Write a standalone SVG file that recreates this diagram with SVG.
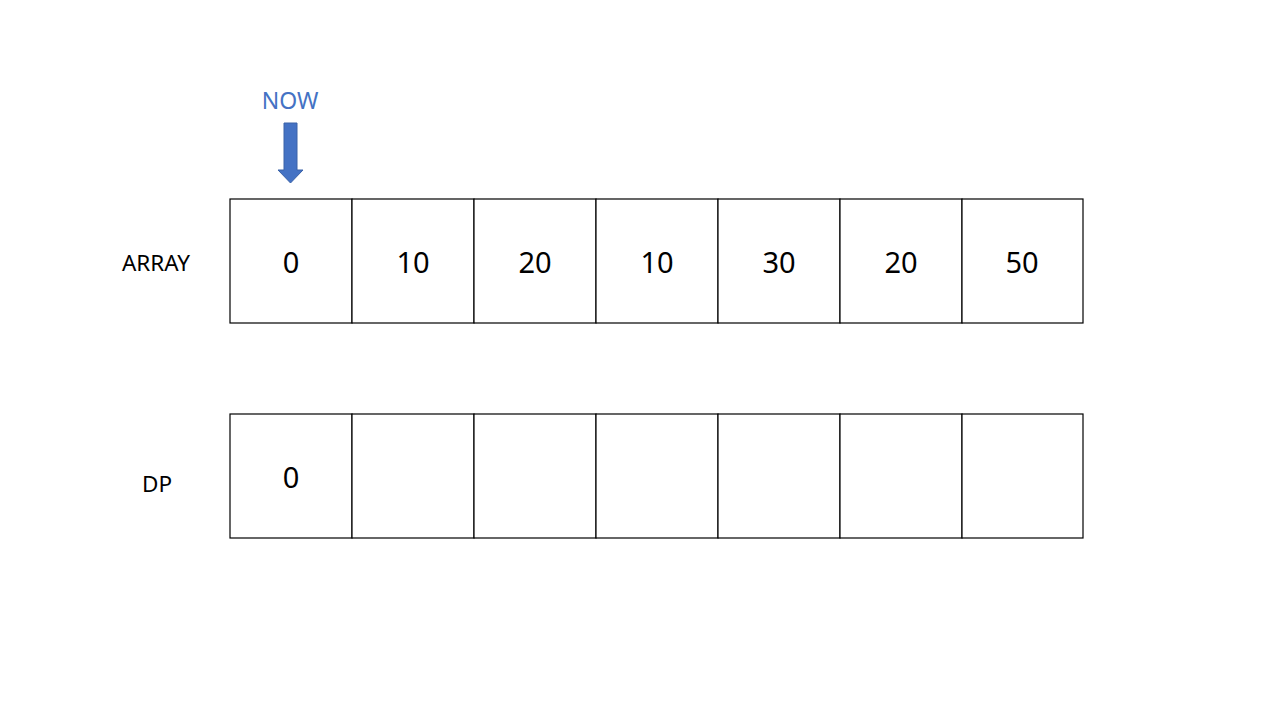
<svg xmlns="http://www.w3.org/2000/svg" width="1280" height="720" viewBox="0 0 1280 720">
<style>
.cell{fill:#ffffff;stroke:#000000;stroke-width:1.2}
.num{font-family:"Noto Sans","Open Sans",sans-serif;font-size:29px;fill:#000000;text-anchor:middle;dominant-baseline:central}
.lbl{font-family:"Noto Sans","Open Sans",sans-serif;font-size:22.5px;fill:#000000;text-anchor:middle;dominant-baseline:central}
.now{font-family:"Noto Sans","Open Sans",sans-serif;font-size:23px;fill:#4472C4;text-anchor:middle;dominant-baseline:central}
</style>
<rect width="1280" height="720" fill="#ffffff"/>
<g id="labels">
<text class="lbl" x="156" y="262">ARRAY</text>
<text class="lbl" x="157" y="483">DP</text>
</g>
<g id="pointer">
<text class="now" x="290" y="100">NOW</text>
<polygon points="284,123 297,123 297,170 303,170 290.5,183 278,170 284,170" fill="#4472C4" stroke="#3A62A8" stroke-width="1"/>
</g>
<g id="array">
<rect class="cell" x="230" y="199" width="122" height="124"/>
<rect class="cell" x="352" y="199" width="122" height="124"/>
<rect class="cell" x="474" y="199" width="122" height="124"/>
<rect class="cell" x="596" y="199" width="122" height="124"/>
<rect class="cell" x="718" y="199" width="122" height="124"/>
<rect class="cell" x="840" y="199" width="122" height="124"/>
<rect class="cell" x="962" y="199" width="121" height="124"/>
<text class="num" x="291" y="261">0</text>
<text class="num" x="413" y="261">10</text>
<text class="num" x="535" y="261">20</text>
<text class="num" x="657" y="261">10</text>
<text class="num" x="779" y="261">30</text>
<text class="num" x="901" y="261">20</text>
<text class="num" x="1022" y="261">50</text>
</g>
<g id="dp">
<rect class="cell" x="230" y="414" width="122" height="124"/>
<rect class="cell" x="352" y="414" width="122" height="124"/>
<rect class="cell" x="474" y="414" width="122" height="124"/>
<rect class="cell" x="596" y="414" width="122" height="124"/>
<rect class="cell" x="718" y="414" width="122" height="124"/>
<rect class="cell" x="840" y="414" width="122" height="124"/>
<rect class="cell" x="962" y="414" width="121" height="124"/>
<text class="num" x="291" y="476">0</text>
</g>
</svg>
